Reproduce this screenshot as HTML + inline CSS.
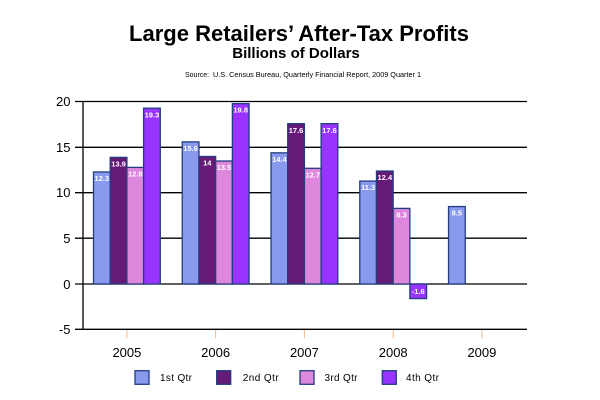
<!DOCTYPE html>
<html><head><meta charset="utf-8"><style>
html,body{margin:0;padding:0;background:#fff;width:600px;height:400px;overflow:hidden}
svg{display:block}
</style></head><body>
<svg width="600" height="400" viewBox="0 0 600 400" xmlns="http://www.w3.org/2000/svg" font-family="Liberation Sans, Arial, sans-serif">
<rect width="600" height="400" fill="#fff"/>
<text x="299" y="41" text-anchor="middle" font-size="22" font-weight="bold" fill="#000">Large Retailers’ After-Tax Profits</text>
<text x="296" y="58" text-anchor="middle" font-size="15" font-weight="bold" fill="#000">Billions of Dollars</text>
<text x="185" y="77" font-size="7" fill="#000">Source:</text>
<text x="213" y="77" font-size="7" fill="#000" textLength="208" lengthAdjust="spacingAndGlyphs">U.S. Census Bureau, Quarterly Financial Report, 2009 Quarter 1</text>

<g stroke="#000" stroke-width="1.3">
<line x1="75" y1="101.5" x2="527" y2="101.5"/>
<line x1="75" y1="147.3" x2="527" y2="147.3"/>
<line x1="75" y1="192.7" x2="527" y2="192.7"/>
<line x1="75" y1="238.2" x2="527" y2="238.2"/>
<line x1="75" y1="284" x2="527" y2="284"/>
<line x1="75" y1="329.3" x2="527" y2="329.3"/>
<line x1="83" y1="101.5" x2="83" y2="329.3"/>
</g>
<g stroke="#f2b88a" stroke-width="1">
<line x1="126.9" y1="330" x2="126.9" y2="338"/>
<line x1="215.6" y1="330" x2="215.6" y2="338"/>
<line x1="304.4" y1="330" x2="304.4" y2="338"/>
<line x1="393.2" y1="330" x2="393.2" y2="338"/>
<line x1="481.9" y1="330" x2="481.9" y2="338"/>
</g>
<g font-size="13" text-anchor="end" fill="#000">
<text x="70.5" y="106">20</text>
<text x="70.5" y="152">15</text>
<text x="70.5" y="197">10</text>
<text x="70.5" y="243">5</text>
<text x="70.5" y="289">0</text>
<text x="70.5" y="334">-5</text>
</g>
<g font-size="13" text-anchor="middle" fill="#000">
<text x="126.9" y="357">2005</text>
<text x="215.6" y="357">2006</text>
<text x="304.4" y="357">2007</text>
<text x="393.2" y="357">2008</text>
<text x="481.9" y="357">2009</text>
</g>

<g stroke="#233d7f" stroke-width="1.3">
<rect x="93.5" y="171.95" width="16.7" height="112.05" fill="#8899ee"/>
<rect x="110.2" y="157.37" width="16.7" height="126.63" fill="#661a78"/>
<rect x="126.9" y="167.39" width="16.7" height="116.61" fill="#dd88dd"/>
<rect x="143.6" y="108.18" width="16.7" height="175.82" fill="#9933ff"/>

<rect x="182.26" y="141.88" width="16.7" height="142.12" fill="#8899ee"/>
<rect x="198.96" y="156.46" width="16.7" height="127.54" fill="#661a78"/>
<rect x="215.66" y="161.02" width="16.7" height="122.98" fill="#dd88dd"/>
<rect x="232.36" y="103.62" width="16.7" height="180.38" fill="#9933ff"/>

<rect x="271.02" y="152.82" width="16.7" height="131.18" fill="#8899ee"/>
<rect x="287.72" y="123.66" width="16.7" height="160.34" fill="#661a78"/>
<rect x="304.42" y="168.3" width="16.7" height="115.7" fill="#dd88dd"/>
<rect x="321.12" y="123.66" width="16.7" height="160.34" fill="#9933ff"/>

<rect x="359.78" y="181.06" width="16.7" height="102.94" fill="#8899ee"/>
<rect x="376.48" y="171.04" width="16.7" height="112.96" fill="#661a78"/>
<rect x="393.18" y="208.39" width="16.7" height="75.61" fill="#dd88dd"/>
<rect x="409.88" y="284" width="16.7" height="14.58" fill="#9933ff"/>

<rect x="448.54" y="206.57" width="16.7" height="77.43" fill="#8899ee"/>
</g>

<g font-size="7.5" font-weight="bold" fill="#fff" text-anchor="middle">
<text x="101.85" y="181">12.3</text>
<text x="118.55" y="166.5">13.9</text>
<text x="135.25" y="176.5">12.8</text>
<text x="151.95" y="117.3">19.3</text>

<text x="190.6" y="151">15.6</text>
<text x="207.3" y="165.5">14</text>
<text x="224" y="170">13.5</text>
<text x="240.7" y="112.7">19.8</text>

<text x="279.37" y="162">14.4</text>
<text x="296.07" y="132.8">17.6</text>
<text x="312.77" y="177.4">12.7</text>
<text x="329.47" y="132.8">17.6</text>

<text x="368.13" y="190">11.3</text>
<text x="384.83" y="180">12.4</text>
<text x="401.53" y="217.5">8.3</text>
<text x="418.23" y="294">-1.6</text>

<text x="456.89" y="215.7">8.5</text>
</g>

<g stroke="#233d7f" stroke-width="1.3">
<rect x="135" y="370.7" width="14" height="13.6" fill="#8899ee"/>
<rect x="216.7" y="370.7" width="14" height="13.6" fill="#661a78"/>
<rect x="300" y="370.7" width="14" height="13.6" fill="#dd88dd"/>
<rect x="382.3" y="370.7" width="14" height="13.6" fill="#9933ff"/>
</g>
<g font-size="10" fill="#000">
<text x="160" y="381" textLength="32" lengthAdjust="spacing">1st Qtr</text>
<text x="242.7" y="381" textLength="36" lengthAdjust="spacing">2nd Qtr</text>
<text x="324.5" y="381" textLength="33" lengthAdjust="spacing">3rd Qtr</text>
<text x="406" y="381" textLength="33" lengthAdjust="spacing">4th Qtr</text>
</g>
</svg>
</body></html>
